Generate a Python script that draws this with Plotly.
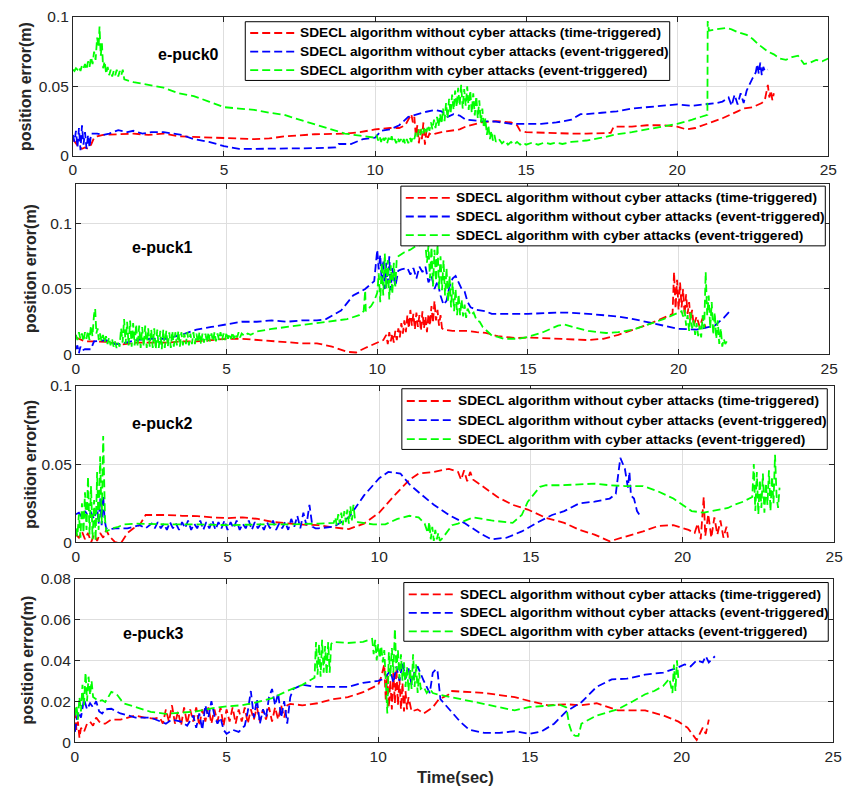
import plotly.graph_objects as go

# ---------------------------------------------------------------------------
# Position error of each e-puck robot: (time [s], error [m]) samples
# ---------------------------------------------------------------------------

# e-puck0
EP0_TIME_TRIG = [
    (0.00, .012), (0.10, .009), (0.20, .006), (0.30, .005), (0.40, .006), (0.50, .005),
    (0.60, .008), (0.70, .013), (0.80, .014), (1.00, .015), (1.50, .0155), (2.00, .016),
    (2.50, .015), (3.00, .016), (3.50, .014), (4.00, .0135), (5.00, .013), (6.00, .012),
    (6.50, .0125), (7.00, .014), (8.00, .0155), (9.00, .016), (9.50, .017), (10.00, .019),
    (10.50, .020), (10.80, .020), (11.00, .022), (11.10, .026), (11.20, .030), (11.25, .024),
    (11.30, .028), (11.35, .014), (11.40, .022), (11.45, .009), (11.50, .019), (11.55, .012),
    (11.60, .024), (11.65, .008), (11.70, .018), (11.75, .013), (11.80, .016), (11.90, .015),
    (12.00, .016), (12.20, .017), (12.50, .018), (12.80, .019), (13.00, .021), (13.20, .022),
    (13.50, .024), (14.00, .025), (14.50, .024), (14.70, .022), (14.80, .018), (15.00, .017),
    (15.50, .0165), (16.00, .016), (16.50, .016), (17.00, .016), (17.50, .016), (17.80, .0165),
    (17.90, .021), (18.50, .021), (19.00, .022), (19.50, .022), (20.00, .021), (20.30, .019),
    (20.60, .020), (21.00, .023), (21.50, .027), (22.00, .032), (22.20, .034), (22.50, .035),
    (22.80, .038), (22.90, .040), (23.00, .051), (23.05, .042), (23.10, .047), (23.15, .040),
    (23.20, .045),
]
EP0_EVENT_TRIG = [
    (0.00, .015), (0.05, .010), (0.10, .018), (0.15, .006), (0.20, .020), (0.25, .004),
    (0.30, .022), (0.35, .008), (0.40, .017), (0.45, .005), (0.50, .015), (0.55, .006),
    (0.60, .016), (0.80, .016), (1.00, .015), (1.20, .016), (1.50, .0185), (1.80, .017),
    (2.00, .018), (2.30, .016), (2.60, .017), (3.00, .017), (3.30, .016), (3.60, .015),
    (4.00, .012), (4.50, .010), (5.00, .007), (5.50, .005), (6.00, .005), (7.00, .005),
    (8.00, .0055), (8.70, .006), (8.80, .0085), (9.20, .0085), (9.40, .0105), (9.60, .012),
    (10.00, .013), (10.20, .018), (10.50, .019), (10.80, .022), (11.10, .028), (11.40, .030),
    (11.70, .0317), (12.00, .033), (12.20, .032), (12.40, .028), (12.60, .030), (12.80, .029),
    (13.00, .026), (13.50, .025), (14.00, .0246), (14.50, .023), (15.00, .023), (15.50, .023),
    (16.00, .024), (16.50, .026), (16.80, .030), (17.00, .030), (17.50, .031), (18.00, .032),
    (18.50, .034), (19.00, .035), (19.50, .036), (20.00, .037), (20.50, .036), (21.00, .037),
    (21.30, .038), (21.50, .039), (21.70, .042), (21.80, .036), (21.90, .044), (22.00, .037),
    (22.10, .045), (22.20, .038), (22.30, .047), (22.50, .056), (22.60, .060), (22.65, .066),
    (22.70, .059), (22.75, .067), (22.80, .058), (22.85, .064), (22.90, .061), (23.00, .062),
]
EP0_ATTACK = [
    (0.00, .062), (0.05, .061), (0.10, .063), (0.15, .062), (0.20, .064), (0.25, .061),
    (0.30, .065), (0.35, .063), (0.40, .066), (0.45, .062), (0.50, .068), (0.55, .064),
    (0.60, .071), (0.65, .066), (0.70, .075), (0.75, .069), (0.80, .085), (0.85, .078),
    (0.88, .093), (0.92, .072), (0.96, .081), (1.00, .063), (1.05, .068), (1.10, .059),
    (1.15, .064), (1.20, .058), (1.25, .062), (1.30, .057), (1.35, .061), (1.40, .058),
    (1.45, .062), (1.50, .057), (1.55, .061), (1.60, .058), (1.65, .062), (1.70, .055),
    (2.00, .053), (2.50, .051), (3.00, .049), (3.50, .045), (4.00, .043), (4.50, .039),
    (5.00, .035), (5.50, .034), (6.00, .033), (6.50, .031), (7.00, .0295), (7.20, .028),
    (7.50, .026), (8.00, .0225), (8.50, .019), (9.00, .016), (9.50, .0145), (10.00, .013),
    (10.05, .015), (10.10, .011), (10.15, .014), (10.20, .010), (10.25, .014), (10.30, .011),
    (10.35, .013), (10.40, .009), (10.45, .013), (10.50, .010), (10.55, .014), (10.60, .010),
    (10.65, .012), (10.70, .009), (10.75, .013), (10.80, .010), (10.85, .012), (10.90, .009),
    (10.95, .012), (11.00, .0085), (11.05, .012), (11.10, .009), (11.15, .013), (11.20, .010),
    (11.25, .014), (11.30, .012), (11.35, .017), (11.40, .014), (11.45, .019), (11.50, .015),
    (11.55, .020), (11.60, .016), (11.65, .021), (11.70, .017), (11.75, .022), (11.80, .018),
    (11.85, .024), (11.90, .019), (11.95, .026), (12.00, .020), (12.05, .028), (12.10, .021),
    (12.15, .030), (12.20, .023), (12.25, .034), (12.30, .025), (12.35, .038), (12.40, .027),
    (12.45, .041), (12.50, .030), (12.55, .044), (12.60, .033), (12.65, .047), (12.70, .035),
    (12.75, .049), (12.80, .036), (12.85, .051), (12.90, .034), (12.95, .048), (13.00, .036),
    (13.05, .050), (13.10, .033), (13.15, .047), (13.20, .031), (13.25, .045), (13.30, .029),
    (13.35, .043), (13.40, .027), (13.45, .040), (13.50, .024), (13.55, .034), (13.60, .020),
    (13.65, .027), (13.70, .015), (13.75, .022), (13.80, .012), (13.85, .018), (13.90, .011),
    (13.95, .015), (14.00, .010), (14.10, .012), (14.20, .009), (14.30, .011), (14.40, .008),
    (14.50, .010), (14.60, .008), (14.70, .010), (14.80, .008), (14.90, .0095), (15.00, .008),
    (15.20, .0095), (15.40, .008), (15.60, .0095), (15.80, .0085), (16.00, .0095), (16.20, .0085),
    (16.50, .010), (17.00, .011), (17.50, .013), (18.00, .0155), (18.50, .017), (19.00, .019),
    (19.50, .021), (20.00, .023), (20.50, .026), (21.00, .0295), (21.01, .097), (21.05, .090),
    (21.30, .091), (21.60, .092), (21.80, .091), (22.00, .089), (22.30, .087), (22.50, .084),
    (22.70, .080), (22.90, .077), (23.00, .075), (23.20, .073), (23.40, .070), (23.60, .069),
    (23.80, .071), (24.00, .072), (24.20, .066), (24.40, .067), (24.60, .069), (24.80, .068),
    (25.00, .070),
]

# e-puck1
EP1_TIME_TRIG = [
    (0.00, .013), (0.30, .010), (0.60, .010), (1.00, .0097), (1.50, .0075), (2.00, .009),
    (2.50, .009), (3.00, .009), (3.50, .010), (4.00, .010), (4.50, .011), (5.00, .012),
    (5.50, .012), (6.00, .011), (6.50, .010), (7.00, .009), (7.50, .0085), (8.00, .0085),
    (8.50, .006), (9.00, .002), (9.30, .0015), (9.60, .005), (10.00, .009), (10.20, .011),
    (10.30, .015), (10.35, .008), (10.40, .017), (10.45, .010), (10.50, .016), (10.55, .009),
    (10.60, .018), (10.65, .011), (10.70, .020), (10.75, .013), (10.80, .024), (10.85, .016),
    (10.90, .026), (10.95, .017), (11.00, .030), (11.05, .020), (11.10, .034), (11.15, .022),
    (11.20, .031), (11.25, .019), (11.30, .032), (11.35, .021), (11.40, .030), (11.45, .018),
    (11.50, .033), (11.55, .020), (11.60, .029), (11.65, .017), (11.70, .031), (11.75, .022),
    (11.80, .037), (11.85, .024), (11.90, .041), (11.95, .026), (12.00, .034), (12.05, .022),
    (12.10, .030), (12.15, .020), (12.20, .019), (12.50, .018), (12.80, .018), (13.00, .018),
    (13.30, .017), (13.60, .0165), (14.00, .014), (14.30, .013), (14.60, .0125), (15.00, .013),
    (15.50, .0125), (16.00, .012), (16.50, .0115), (17.00, .011), (17.50, .012), (18.00, .015),
    (18.50, .019), (19.00, .023), (19.50, .028), (19.80, .031), (19.85, .063), (19.90, .035),
    (19.95, .057), (20.00, .034), (20.05, .055), (20.10, .036), (20.15, .050), (20.20, .030),
    (20.25, .046), (20.30, .031), (20.35, .040), (20.40, .026), (20.45, .034), (20.50, .022),
    (20.60, .029), (20.70, .021), (20.80, .028), (20.90, .020),
]
EP1_EVENT_TRIG = [
    (0.00, .004), (0.05, .007), (0.10, .001), (0.15, .006), (0.20, .003), (0.30, .004),
    (0.50, .004), (0.60, .010), (1.00, .011), (1.30, .008), (1.50, .008), (2.00, .011),
    (2.50, .012), (3.00, .012), (3.50, .015), (4.00, .019), (4.50, .021), (5.00, .023),
    (5.50, .025), (6.00, .025), (6.50, .026), (7.00, .025), (7.50, .026), (8.00, .026),
    (8.30, .027), (8.80, .0335), (9.20, .045), (9.60, .050), (9.90, .056), (10.00, .080),
    (10.05, .065), (10.10, .076), (10.15, .055), (10.20, .072), (10.25, .050), (10.30, .070),
    (10.35, .054), (10.40, .075), (10.45, .049), (10.50, .066), (10.60, .052), (10.70, .064),
    (10.80, .065), (11.00, .066), (11.10, .061), (11.20, .066), (11.30, .058), (11.40, .067),
    (11.50, .063), (11.60, .067), (11.70, .055), (11.80, .060), (11.90, .050), (12.00, .056),
    (12.10, .045), (12.20, .038), (12.30, .041), (12.40, .052), (12.50, .058), (12.60, .060),
    (12.70, .055), (12.80, .050), (12.90, .048), (13.00, .040), (13.10, .036), (13.30, .034),
    (13.60, .033), (13.80, .031), (14.50, .031), (15.00, .031), (16.00, .032), (16.30, .032),
    (17.00, .031), (18.00, .029), (18.50, .027), (19.00, .0245), (19.50, .022), (20.00, .0196),
    (20.60, .019), (21.20, .022), (21.50, .028), (21.70, .033),
]
EP1_ATTACK = [
    (0.00, .015), (0.05, .011), (0.10, .017), (0.15, .012), (0.20, .016), (0.25, .010),
    (0.30, .017), (0.35, .012), (0.40, .018), (0.45, .011), (0.50, .022), (0.55, .014),
    (0.60, .030), (0.64, .035), (0.68, .016), (0.72, .020), (0.76, .011), (0.80, .016),
    (0.85, .010), (0.90, .015), (0.95, .009), (1.00, .014), (1.05, .008), (1.10, .013),
    (1.15, .007), (1.20, .012), (1.25, .006), (1.30, .010), (1.35, .005), (1.40, .009),
    (1.45, .006), (1.50, .020), (1.55, .009), (1.60, .027), (1.65, .008), (1.70, .025),
    (1.75, .007), (1.80, .026), (1.85, .006), (1.90, .024), (1.95, .007), (2.00, .023),
    (2.05, .006), (2.10, .022), (2.15, .005), (2.20, .021), (2.25, .006), (2.30, .022),
    (2.35, .005), (2.40, .020), (2.45, .006), (2.50, .019), (2.55, .005), (2.60, .020),
    (2.65, .004), (2.70, .019), (2.75, .005), (2.80, .018), (2.85, .004), (2.90, .019),
    (2.95, .005), (3.00, .018), (3.05, .006), (3.10, .017), (3.15, .005), (3.20, .018),
    (3.25, .006), (3.30, .017), (3.35, .007), (3.40, .018), (3.45, .006), (3.50, .017),
    (3.55, .007), (3.60, .016), (3.65, .008), (3.70, .017), (3.75, .007), (3.80, .016),
    (3.85, .008), (3.90, .017), (3.95, .008), (4.00, .016), (4.05, .009), (4.10, .017),
    (4.15, .008), (4.20, .016), (4.25, .009), (4.30, .016), (4.35, .009), (4.40, .017),
    (4.45, .010), (4.50, .016), (4.55, .010), (4.60, .017), (4.65, .010), (4.70, .016),
    (4.75, .011), (4.80, .017), (4.85, .011), (4.90, .016), (4.95, .011), (5.00, .017),
    (5.05, .012), (5.10, .016), (5.15, .012), (5.20, .017), (5.25, .012), (5.30, .016),
    (5.35, .013), (5.40, .017), (5.45, .013), (5.50, .016), (5.60, .014), (5.70, .016),
    (5.80, .015), (6.00, .0175), (6.50, .0195), (7.00, .021), (7.50, .023), (8.00, .024),
    (8.50, .026), (9.00, .027), (9.40, .030), (9.55, .033), (9.60, .049), (9.62, .033),
    (9.70, .035), (9.80, .037), (9.90, .041), (10.00, .047), (10.05, .062), (10.10, .040),
    (10.15, .070), (10.20, .045), (10.25, .077), (10.30, .050), (10.35, .072), (10.40, .042),
    (10.45, .068), (10.50, .046), (10.55, .070), (10.60, .052), (10.65, .074), (10.70, .075),
    (10.90, .078), (11.10, .080), (11.30, .083), (11.50, .084), (11.60, .084), (11.65, .070),
    (11.70, .083), (11.75, .058), (11.80, .082), (11.85, .052), (11.90, .080), (11.95, .056),
    (12.00, .084), (12.05, .050), (12.10, .075), (12.15, .049), (12.20, .072), (12.25, .045),
    (12.30, .066), (12.35, .040), (12.40, .060), (12.45, .036), (12.50, .055), (12.55, .033),
    (12.60, .050), (12.65, .030), (12.70, .046), (12.75, .030), (12.80, .042), (12.85, .029),
    (12.90, .038), (12.95, .028), (13.00, .035), (13.10, .030), (13.20, .032), (13.30, .026),
    (13.40, .025), (13.50, .021), (13.60, .019), (13.80, .0145), (14.00, .0135), (14.20, .012),
    (14.40, .012), (14.70, .012), (15.00, .0134), (15.50, .017), (16.00, .022), (16.20, .023),
    (16.50, .021), (17.00, .018), (17.60, .0164), (18.00, .017), (18.50, .019), (19.00, .023),
    (19.50, .027), (20.00, .032), (20.10, .033), (20.15, .029), (20.20, .034), (20.25, .022),
    (20.30, .030), (20.35, .018), (20.40, .032), (20.45, .020), (20.50, .026), (20.55, .015),
    (20.60, .024), (20.65, .014), (20.70, .022), (20.75, .013), (20.80, .030), (20.85, .020),
    (20.90, .063), (20.95, .030), (21.00, .045), (21.05, .020), (21.10, .040), (21.15, .015),
    (21.20, .032), (21.25, .012), (21.30, .026), (21.35, .008), (21.40, .020), (21.45, .006),
    (21.50, .012), (21.55, .008), (21.60, .010),
]

# e-puck2
EP2_TIME_TRIG = [
    (0.00, .005), (0.10, .003), (0.20, .007), (0.30, .002), (0.40, .006), (0.50, .000),
    (0.60, .005), (0.70, .001), (0.80, .006), (0.90, .003), (1.00, .008), (1.10, .004),
    (1.30, .000), (1.50, .000), (1.70, .006), (1.90, .009), (2.10, .011), (2.30, .0175),
    (2.60, .0175), (3.00, .0175), (3.50, .017), (4.00, .0168), (4.50, .016), (5.00, .0155),
    (5.50, .016), (6.00, .015), (6.50, .013), (7.00, .012), (7.50, .0113), (8.00, .011),
    (8.50, .0095), (9.00, .0085), (9.50, .012), (10.00, .019), (10.50, .030), (11.00, .040),
    (11.30, .044), (11.80, .045), (12.30, .047), (12.60, .045), (12.70, .040), (12.80, .046),
    (12.90, .039), (13.00, .045), (13.10, .040), (13.40, .036), (13.90, .029), (14.40, .024),
    (14.90, .021), (15.50, .0156), (16.10, .0125), (16.60, .008), (17.10, .005), (17.60, .0007),
    (18.20, .004), (18.70, .007), (19.20, .0105), (19.70, .011), (20.20, .008), (20.40, .006),
    (20.50, .012), (20.60, .002), (20.70, .029), (20.75, .004), (20.85, .018), (20.95, .003),
    (21.05, .016), (21.15, .005), (21.25, .014), (21.35, .003), (21.45, .010), (21.50, .003),
]
EP2_EVENT_TRIG = [
    (0.00, .018), (0.10, .019), (0.20, .016), (0.30, .020), (0.40, .017), (0.50, .019),
    (0.60, .015), (0.70, .022), (0.75, .012), (0.80, .028), (0.85, .011), (0.90, .030),
    (0.95, .014), (1.00, .009), (1.10, .0085), (1.30, .009), (1.70, .009), (2.10, .011),
    (2.30, .009), (2.50, .012), (2.60, .009), (2.70, .013), (2.80, .009), (2.90, .012),
    (3.00, .008), (3.10, .013), (3.20, .009), (3.30, .012), (3.40, .008), (3.50, .013),
    (3.60, .009), (3.70, .014), (3.80, .008), (3.90, .012), (4.00, .009), (4.10, .014),
    (4.20, .008), (4.30, .013), (4.40, .009), (4.50, .014), (4.60, .008), (4.70, .013),
    (4.80, .009), (4.90, .014), (5.00, .008), (5.10, .013), (5.20, .009), (5.30, .014),
    (5.40, .008), (5.50, .012), (5.60, .009), (5.70, .014), (5.80, .008), (5.90, .013),
    (6.00, .009), (6.10, .012), (6.20, .008), (6.30, .013), (6.40, .009), (6.50, .014),
    (6.60, .008), (6.70, .012), (6.80, .009), (6.90, .013), (7.00, .008), (7.10, .015),
    (7.20, .010), (7.30, .017), (7.40, .009), (7.50, .019), (7.60, .011), (7.70, .024),
    (7.80, .010), (7.90, .009), (8.00, .009), (8.50, .010), (9.00, .016), (9.50, .030),
    (10.00, .041), (10.30, .045), (10.70, .044), (11.00, .037), (11.30, .032), (11.80, .024),
    (12.30, .0175), (12.80, .0125), (13.40, .005), (13.70, .002), (14.20, .003), (14.70, .007),
    (15.20, .0125), (15.70, .0175), (16.10, .020), (16.60, .025), (17.10, .026), (17.60, .028),
    (17.80, .031), (17.95, .054), (18.10, .047), (18.20, .035), (18.25, .045), (18.30, .030),
    (18.40, .028), (18.50, .020), (18.60, .017),
]
EP2_ATTACK = [
    (0.00, .009), (0.05, .004), (0.10, .018), (0.15, .003), (0.20, .025), (0.25, .006),
    (0.30, .032), (0.35, .008), (0.40, .042), (0.45, .005), (0.50, .036), (0.55, .002),
    (0.60, .027), (0.65, .001), (0.70, .045), (0.75, .008), (0.80, .055), (0.85, .012),
    (0.90, .068), (0.93, .030), (0.96, .015), (1.00, .007), (1.10, .008), (1.20, .009),
    (1.40, .010), (1.60, .0115), (2.00, .012), (3.00, .0115), (4.00, .0115), (5.00, .011),
    (6.00, .0115), (7.00, .0115), (8.00, .012), (8.50, .0125), (8.55, .016), (8.60, .011),
    (8.65, .018), (8.70, .012), (8.75, .019), (8.80, .011), (8.85, .020), (8.90, .013),
    (8.95, .021), (9.00, .012), (9.05, .023), (9.10, .014), (9.15, .024), (9.20, .015),
    (9.30, .013), (9.80, .0115), (10.20, .0115), (10.60, .015), (11.00, .017), (11.30, .016),
    (11.50, .012), (11.60, .006), (11.65, .013), (11.70, .002), (11.75, .010), (11.80, .001),
    (11.85, .008), (11.90, .002), (11.95, .006), (12.00, .001), (12.10, .003), (12.40, .011),
    (12.60, .012), (13.10, .016), (13.70, .014), (14.40, .0125), (14.70, .0175), (14.90, .026),
    (15.30, .0355), (15.50, .0365), (16.00, .0365), (16.60, .037), (17.10, .0375), (17.60, .0365),
    (18.10, .036), (18.70, .036), (19.20, .0325), (19.70, .028), (20.30, .020), (20.70, .019),
    (21.20, .0206), (21.50, .022), (21.70, .024), (22.00, .026), (22.30, .029), (22.35, .050),
    (22.40, .020), (22.45, .045), (22.50, .018), (22.55, .040), (22.60, .022), (22.65, .044),
    (22.70, .019), (22.75, .038), (22.80, .024), (22.85, .046), (22.90, .020), (22.95, .042),
    (23.00, .025), (23.05, .056), (23.10, .030), (23.15, .022), (23.20, .035),
]

# e-puck3
EP3_TIME_TRIG = [
    (0.00, .0155), (0.05, .006), (0.10, .010), (0.15, .002), (0.20, .007), (0.30, .005),
    (0.40, .009), (0.50, .010), (0.60, .008), (0.70, .012), (0.80, .010), (0.90, .009),
    (1.00, .009), (1.20, .011), (1.50, .011), (1.80, .012), (2.00, .013), (2.30, .012),
    (2.60, .0115), (2.80, .012), (2.90, .009), (3.00, .016), (3.10, .010), (3.20, .018),
    (3.30, .009), (3.40, .015), (3.50, .008), (3.60, .017), (3.70, .009), (3.80, .016),
    (3.90, .010), (4.00, .017), (4.10, .008), (4.20, .016), (4.30, .010), (4.40, .017),
    (4.50, .009), (4.60, .016), (4.70, .010), (4.80, .017), (4.90, .008), (5.00, .016),
    (5.10, .010), (5.20, .017), (5.30, .009), (5.40, .016), (5.50, .010), (5.60, .017),
    (5.70, .009), (5.80, .016), (5.90, .011), (6.00, .017), (6.10, .010), (6.20, .016),
    (6.30, .011), (6.40, .017), (6.50, .010), (6.60, .017), (6.70, .011), (6.80, .018),
    (6.90, .012), (7.00, .018), (7.10, .0187), (7.50, .018), (8.00, .019), (8.50, .021),
    (9.00, .022), (9.50, .0244), (10.00, .028), (10.10, .032), (10.20, .038), (10.25, .020),
    (10.30, .033), (10.35, .017), (10.40, .030), (10.45, .016), (10.50, .034), (10.55, .019),
    (10.60, .036), (10.65, .018), (10.70, .031), (10.75, .016), (10.80, .029), (10.85, .015),
    (10.90, .025), (10.95, .016), (11.00, .022), (11.10, .015), (11.30, .016), (11.50, .014),
    (11.80, .017), (12.00, .021), (12.30, .023), (12.40, .025), (13.00, .0245), (13.50, .024),
    (14.00, .023), (14.50, .022), (15.00, .020), (15.60, .018), (16.20, .0185), (16.70, .018),
    (17.20, .019), (17.90, .0155), (18.80, .0155), (19.40, .013), (19.90, .010), (20.20, .007),
    (20.50, .001), (20.60, .004), (20.70, .007), (20.80, .004), (20.90, .011),
]
EP3_EVENT_TRIG = [
    (0.00, .005), (0.10, .015), (0.20, .012), (0.30, .021), (0.40, .016), (0.50, .019),
    (0.60, .017), (0.70, .020), (0.80, .015), (0.90, .014), (1.00, .016), (1.20, .0163),
    (1.50, .014), (2.00, .012), (2.50, .012), (2.80, .010), (3.00, .009), (3.20, .011),
    (3.50, .010), (3.70, .008), (3.90, .013), (4.00, .007), (4.10, .014), (4.20, .006),
    (4.30, .018), (4.40, .012), (4.50, .020), (4.60, .013), (4.70, .009), (4.80, .012),
    (4.90, .006), (5.00, .004), (5.20, .006), (5.40, .005), (5.60, .008), (5.70, .015),
    (5.80, .025), (5.90, .012), (6.00, .021), (6.10, .009), (6.20, .016), (6.30, .012),
    (6.40, .022), (6.50, .026), (6.60, .018), (6.70, .024), (6.80, .012), (6.90, .020),
    (7.00, .009), (7.10, .022), (7.20, .026), (7.50, .028), (8.00, .027), (8.50, .027),
    (9.00, .027), (9.50, .029), (10.00, .030), (10.20, .031), (10.40, .035), (10.50, .029),
    (10.60, .037), (10.70, .030), (10.80, .039), (10.90, .031), (11.00, .036), (11.10, .028),
    (11.20, .035), (11.30, .037), (11.50, .030), (11.70, .024), (11.80, .034), (11.90, .0355),
    (11.95, .0355), (12.05, .021), (12.40, .015), (12.70, .010), (13.00, .006), (13.50, .0045),
    (14.00, .0045), (14.50, .0053), (15.00, .004), (15.40, .0053), (15.80, .009), (16.20, .015),
    (16.70, .0195), (17.20, .027), (17.70, .0307), (18.20, .031), (18.80, .033), (19.40, .034),
    (19.80, .036), (20.10, .038), (20.30, .037), (20.50, .040), (20.70, .039), (20.80, .042),
    (20.90, .039), (21.10, .042),
]
EP3_ATTACK = [
    (0.00, .013), (0.05, .018), (0.10, .011), (0.15, .022), (0.20, .015), (0.25, .028),
    (0.30, .018), (0.35, .034), (0.40, .020), (0.45, .032), (0.50, .023), (0.55, .030),
    (0.60, .022), (0.70, .021), (0.80, .020), (0.90, .0205), (1.00, .0196), (1.10, .022),
    (1.20, .0246), (1.30, .024), (1.40, .023), (1.60, .019), (2.00, .0172), (2.50, .0148),
    (3.00, .0138), (3.50, .0145), (4.00, .015), (4.50, .0165), (5.00, .0175), (5.50, .018),
    (6.00, .0195), (6.50, .0215), (7.00, .025), (7.50, .028), (7.90, .0315), (7.95, .049),
    (8.00, .033), (8.05, .048), (8.10, .032), (8.15, .050), (8.20, .034), (8.25, .047),
    (8.30, .033), (8.35, .049), (8.40, .034), (8.45, .048), (8.50, .049), (9.00, .0485),
    (9.50, .049), (9.80, .0505), (9.85, .043), (9.90, .050), (9.95, .040), (10.00, .048),
    (10.05, .041), (10.10, .047), (10.15, .039), (10.20, .045), (10.25, .028), (10.30, .014),
    (10.35, .044), (10.40, .032), (10.45, .046), (10.50, .034), (10.55, .0555), (10.60, .035),
    (10.65, .045), (10.70, .031), (10.75, .043), (10.80, .030), (10.85, .039), (10.90, .027),
    (10.95, .037), (11.00, .025), (11.05, .036), (11.10, .026), (11.15, .043), (11.20, .027),
    (11.25, .038), (11.30, .024), (11.35, .034), (11.40, .026), (11.50, .027), (11.60, .024),
    (11.70, .026), (11.80, .024), (11.95, .0234), (12.40, .022), (13.00, .020), (13.50, .0184),
    (14.00, .017), (14.50, .0155), (15.00, .0172), (15.50, .0178), (16.00, .0182), (16.20, .017),
    (16.30, .0083), (16.40, .004), (16.50, .003), (16.60, .003), (16.70, .009), (17.20, .013),
    (17.90, .016), (18.40, .020), (18.80, .0234), (19.10, .025), (19.40, .0275), (19.60, .031),
    (19.70, .024), (19.75, .038), (19.80, .025), (19.85, .040), (19.90, .030),
]

SERIES_NAMES = [
    "SDECL algorithm without cyber attacks (time-triggered)",
    "SDECL algorithm without cyber attacks (event-triggered)",
    "SDECL algorithm with cyber attacks (event-triggered)",
]
SERIES_COLORS = ["#FF0000", "#0000FF", "#00FF00"]
ROBOT_LABELS = ["e-puck0", "e-puck1", "e-puck2", "e-puck3"]
X_TICKS = [0, 5, 10, 15, 20, 25]
Y_TICKS = [
    [0, 0.05, 0.1],
    [0, 0.05, 0.1],
    [0, 0.05, 0.1],
    [0, 0.02, 0.04, 0.06, 0.08],
]
Y_TICK_TEXT = [
    ["0", "0.05", "0.1"],
    ["0", "0.05", "0.1"],
    ["0", "0.05", "0.1"],
    ["0", "0.02", "0.04", "0.06", "0.08"],
]
Y_RANGES = [[0, 0.1], [0, 0.13], [0, 0.1], [0, 0.08]]

PANELS = [
    (EP0_TIME_TRIG, EP0_EVENT_TRIG, EP0_ATTACK),
    (EP1_TIME_TRIG, EP1_EVENT_TRIG, EP1_ATTACK),
    (EP2_TIME_TRIG, EP2_EVENT_TRIG, EP2_ATTACK),
    (EP3_TIME_TRIG, EP3_EVENT_TRIG, EP3_ATTACK),
]

# ---------------------------------------------------------------------------
# Page geometry (pixels of the 854 x 799 canvas)
# ---------------------------------------------------------------------------
W, H = 854, 799
# (left, right, top, bottom) of each axes box
BOXES = [
    (70, 837, 8, 150),
    (73, 838, 179, 353),
    (73, 843, 385, 545),
    (72, 842, 582, 749),
]
# legend boxes: (left, right, top, bottom, sample start, text start, [row centres])
LEGEND_BOXES = [
    (245, 676, 13, 73, 250, 299, [24.5, 43.5, 62.5]),
    (403, 834, 181, 242, 408, 457, [193, 212, 231]),
    (404, 836, 388, 450, 409, 459, [400.5, 420, 439.5]),
    (406, 837, 586, 646, 411, 461, [598, 617, 636]),
]
# centre of each robot label
ROBOT_LABEL_POS = [(187, 46), (161, 244), (161, 423), (152, 638)]
# centre of each y-axis title
YTITLE_POS = [(22, 79), (27, 265), (27, 465), (24, 665)]

FONT = "Arial, 'Liberation Sans', Helvetica, sans-serif"
AX_COLOR = "#262626"
GRID_COLOR = "#dedede"
DASH = "8px,4px"


def px_x(v):
    return v / W


def px_y(v):
    return 1 - v / H


fig = go.Figure()

for p, series in enumerate(PANELS):
    suffix = "" if p == 0 else str(p + 1)
    for s, pts in enumerate(series):
        fig.add_trace(go.Scatter(
            x=[pt[0] for pt in pts],
            y=[pt[1] for pt in pts],
            mode="lines",
            name=SERIES_NAMES[s],
            line=dict(color=SERIES_COLORS[s], width=1.8, dash=DASH),
            xaxis="x" + suffix,
            yaxis="y" + suffix,
            showlegend=False,
        ))

layout = dict(
    width=W, height=H,
    margin=dict(l=0, r=0, t=0, b=0),
    paper_bgcolor="white",
    plot_bgcolor="white",
    font=dict(family=FONT, color=AX_COLOR),
    showlegend=False,
    annotations=[],
    shapes=[],
)

for p in range(4):
    suffix = "" if p == 0 else str(p + 1)
    left, right, top, bottom = BOXES[p]
    common = dict(
        showline=True, linecolor=AX_COLOR, linewidth=1, mirror="ticks",
        ticks="inside", ticklen=5, tickcolor=AX_COLOR, tickwidth=1,
        showgrid=True, gridcolor=GRID_COLOR, gridwidth=1,
        zeroline=False, tickfont=dict(family=FONT, size=15.5, color=AX_COLOR),
    )
    layout["xaxis" + suffix] = dict(
        common,
        domain=[px_x(left), px_x(right)],
        anchor="y" + suffix,
        range=[0, 25],
        tickvals=X_TICKS,
        ticktext=[str(v) for v in X_TICKS],
    )
    layout["yaxis" + suffix] = dict(
        common,
        domain=[px_y(bottom), px_y(top)],
        anchor="x" + suffix,
        range=Y_RANGES[p],
        tickvals=Y_TICKS[p],
        ticktext=Y_TICK_TEXT[p],
    )

    # legend box with dashed line samples and bold labels
    l0, l1, t0, b0, sx, tx0, rows = LEGEND_BOXES[p]
    layout["shapes"].append(dict(
        type="rect", xref="paper", yref="paper",
        x0=px_x(l0), x1=px_x(l1), y0=px_y(b0), y1=px_y(t0),
        line=dict(color="#000000", width=1), fillcolor="white", layer="above",
    ))
    for s, ry in enumerate(rows):
        layout["shapes"].append(dict(
            type="line", xref="paper", yref="paper",
            x0=px_x(sx), x1=px_x(sx + 46), y0=px_y(ry), y1=px_y(ry),
            line=dict(color=SERIES_COLORS[s], width=1.8, dash=DASH), layer="above",
        ))
        layout["annotations"].append(dict(
            x=px_x(tx0), y=px_y(ry), xref="paper", yref="paper",
            text=SERIES_NAMES[s], showarrow=False,
            font=dict(family=FONT, size=13.7, color="#000000", weight="bold"),
            xanchor="left", yanchor="middle",
        ))

    rx, ry = ROBOT_LABEL_POS[p]
    layout["annotations"].append(dict(
        x=px_x(rx), y=px_y(ry), xref="paper", yref="paper",
        text=ROBOT_LABELS[p], showarrow=False,
        font=dict(family=FONT, size=16, color="#000000", weight="bold"),
        xanchor="center", yanchor="middle",
    ))
    yx, yy = YTITLE_POS[p]
    layout["annotations"].append(dict(
        x=px_x(yx), y=px_y(yy), xref="paper", yref="paper",
        text="position error(m)", showarrow=False, textangle=-90,
        font=dict(family=FONT, size=16, color=AX_COLOR, weight="bold"),
        xanchor="center", yanchor="middle",
    ))

layout["annotations"].append(dict(
    x=px_x(458), y=px_y(785), xref="paper", yref="paper",
    text="Time(sec)", showarrow=False,
    font=dict(family=FONT, size=16.5, color=AX_COLOR, weight="bold"),
    xanchor="center", yanchor="middle",
))

fig.update_layout(**layout)
fig.write_html("out.html")
